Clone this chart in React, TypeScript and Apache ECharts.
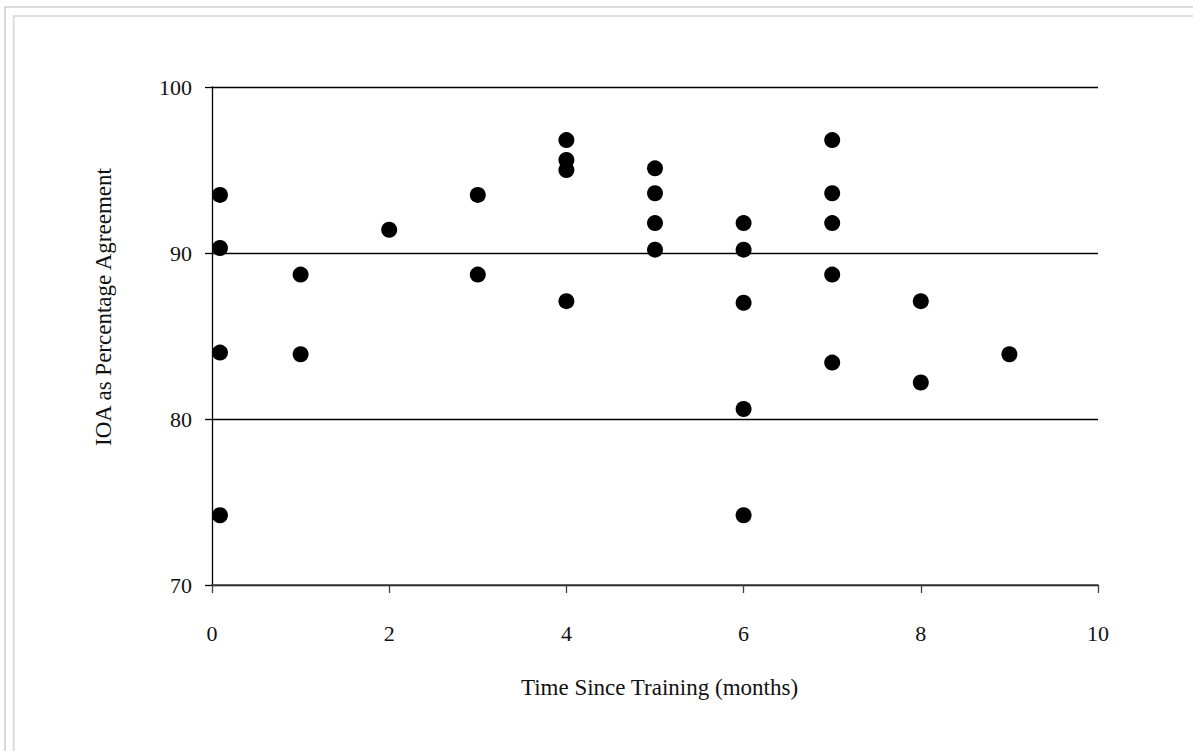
import React, { useEffect, useRef } from "react";
import * as echarts from "echarts";

const monthsSinceTraining: number[] = [
  0.09, 0.09, 0.09, 0.09,
  1, 1,
  2,
  3, 3,
  4, 4, 4, 4,
  5, 5, 5, 5,
  6, 6, 6, 6, 6,
  7, 7, 7, 7, 7,
  8, 8,
  9,
];

const ioaPercent: number[] = [
  93.5, 90.3, 84.0, 74.2,
  88.7, 83.9,
  91.4,
  93.5, 88.7,
  96.8, 95.6, 95.0, 87.1,
  95.1, 93.6, 91.8, 90.2,
  91.8, 90.2, 87.0, 80.6, 74.2,
  96.8, 93.6, 91.8, 88.7, 83.4,
  87.1, 82.2,
  83.9,
];

const xTitle = "Time Since Training (months)";
const yTitle = "IOA as Percentage Agreement";

const FONT = "'Liberation Serif', 'Times New Roman', serif";

export default function App() {
  const ref = useRef<HTMLDivElement>(null);

  useEffect(() => {
    if (!ref.current) return;
    const chart = echarts.init(ref.current, undefined, { renderer: "svg" });
    const points = monthsSinceTraining.map((x, i) => [x, ioaPercent[i]]);
    chart.setOption({
      animation: false,
      backgroundColor: "#ffffff",
      textStyle: { fontFamily: FONT },
      graphic: [
        {
          type: "rect",
          silent: true,
          shape: { x: 5, y: 7, width: 1400, height: 1000 },
          style: { fill: "none", stroke: "#cfcfcf", lineWidth: 1.6 },
        },
        {
          type: "rect",
          silent: true,
          shape: { x: 13.7, y: 16, width: 1400, height: 1000 },
          style: { fill: "none", stroke: "#d6d6d6", lineWidth: 1.6 },
        },
      ],
      grid: { left: 212, top: 87, right: 95, bottom: 166, containLabel: false },
      xAxis: {
        type: "value",
        min: 0,
        max: 10,
        interval: 2,
        name: xTitle,
        nameLocation: "middle",
        nameGap: 91,
        nameTextStyle: {
          fontFamily: FONT,
          fontSize: 23,
          color: "#111",
          padding: [0, 0, 0, 9],
        },
        axisLine: { show: true, onZero: false, lineStyle: { color: "#404040", width: 1.6 } },
        axisTick: { show: true, inside: false, length: 8, lineStyle: { color: "#404040", width: 1.3 } },
        axisLabel: { fontFamily: FONT, fontSize: 22, color: "#111", margin: 37 },
        splitLine: { show: false },
      },
      yAxis: {
        type: "value",
        min: 70,
        max: 100,
        interval: 10,
        name: yTitle,
        nameLocation: "middle",
        nameGap: 97,
        nameTextStyle: {
          fontFamily: FONT,
          fontSize: 23,
          color: "#111",
          padding: [0, 0, 0, 58],
        },
        axisLine: { show: true, lineStyle: { color: "#000", width: 1.3 } },
        axisTick: { show: true, inside: false, length: 7, lineStyle: { color: "#000", width: 1.3 } },
        axisLabel: { fontFamily: FONT, fontSize: 22, color: "#111", margin: 20 },
        splitLine: { show: true, lineStyle: { color: "#000", width: 1.3 } },
      },
      series: [
        {
          type: "scatter",
          data: points,
          symbol: "circle",
          symbolSize: 16,
          itemStyle: { color: "#000", opacity: 1 },
        },
      ],
    });
    return () => chart.dispose();
  }, []);

  return (
    <div
      ref={ref}
      style={{ position: "fixed", left: 0, top: 0, width: 1193, height: 751 }}
    />
  );
}
